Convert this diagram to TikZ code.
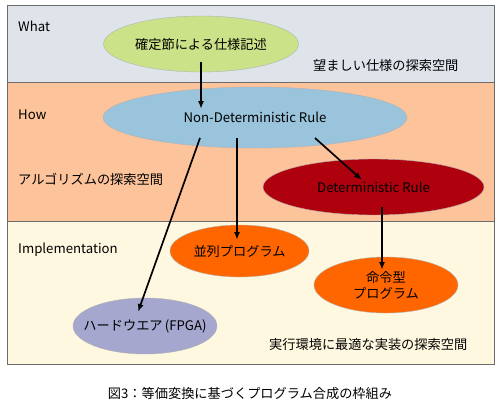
\documentclass[tikz,border=0pt]{standalone}
\usepackage{fontspec}
\setmainfont{Noto Sans CJK JP}
\usetikzlibrary{shapes.geometric,arrows.meta}
\definecolor{bandWhat}{HTML}{DFE4EB}
\definecolor{bandHow}{HTML}{FDC39B}
\definecolor{bandImpl}{HTML}{FFF8E0}
\definecolor{cGreen}{HTML}{CCE288}
\definecolor{cBlue}{HTML}{9AC3DC}
\definecolor{cRed}{HTML}{AF000E}
\definecolor{cOrange}{HTML}{FF6600}
\definecolor{cLav}{HTML}{A5A7CF}
\tikzset{
  band/.style={draw=gray!85!black, line width=0.8pt},
  ell/.style={ellipse, draw=gray!60, line width=0.4pt, inner sep=0pt, align=center, font=\fontsize{13.2}{16}\selectfont},
  lbl/.style={anchor=west, inner sep=0pt, font=\fontsize{13.2}{16}\selectfont},
  arr/.style={line width=1.7pt, -{Latex[length=8pt,width=6pt]}},
}
\begin{document}
\begin{tikzpicture}[x=1pt,y=-1pt]
\useasboundingbox (0,0) rectangle (501,405);
% bands
\fill[bandWhat] (7,5) rectangle (494,82);
\fill[bandHow] (7,82) rectangle (494,221);
\fill[bandImpl] (7,221) rectangle (494,364);
\draw[band] (7,5) rectangle (494,364);
\draw[band] (7,82) -- (494,82);
\draw[band] (7,221) -- (494,221);
% band labels
\node[lbl] (what) at (18,26) {What};
\node[lbl] (how) at (18,115) {How};
\node[lbl] (algo) at (18,179) {アルゴリズムの探索空間};
\node[lbl] (impl) at (18,250) {Implementation};
\node[lbl] (spec) at (313,65) {望ましい仕様の探索空間};
\node[lbl] (env) at (269,344) {実行環境に最適な実装の探索空間};
% ellipses
\node[ell, fill=cGreen, minimum width=195pt, minimum height=56pt] (g) at (201,44) {確定節による仕様記述};
\node[ell, fill=cBlue, minimum width=304pt, minimum height=61pt] (b) at (255,117.5) {Non-Deterministic Rule};
\node[ell, fill=cRed, minimum width=221pt, minimum height=56pt] (d) at (373.5,187) {Deterministic Rule};
\node[ell, fill=cOrange, minimum width=139pt, minimum height=52pt] (p) at (239.5,251) {並列プログラム};
\node[ell, fill=cOrange, minimum width=144pt, minimum height=56pt] (m) at (386,285) {命令型\\プログラム};
\node[ell, fill=cLav, minimum width=144pt, minimum height=56pt,
  label={[font=\fontsize{13.2}{16}\selectfont]center:ハードウエア\,(FPGA)}] (h) at (145,326) {};
% arrows
\draw[arr] ([shift={(0,18)}]g.center) -- ([shift={(-54,-8.5)}]b.center);
\draw[arr] ([shift={(-55,20.5)}]b.center) -- ([shift={(-7,-14)}]h.center);
\draw[arr] ([shift={(-18,20.5)}]b.center) -- ([shift={(-2.5,-11)}]p.center);
\draw[arr] ([shift={(60,20.5)}]b.center) -- ([shift={(-11.5,-7)}]d.center);
\draw[arr] ([shift={(8.5,20)}]d.center) -- ([shift={(-4,-15)}]m.center);
% caption
\node[inner sep=0pt, font=\fontsize{13.2}{16}\selectfont] (cap) at (250,393) {図3：等価変換に基づくプログラム合成の枠組み};
\end{tikzpicture}
\end{document}
